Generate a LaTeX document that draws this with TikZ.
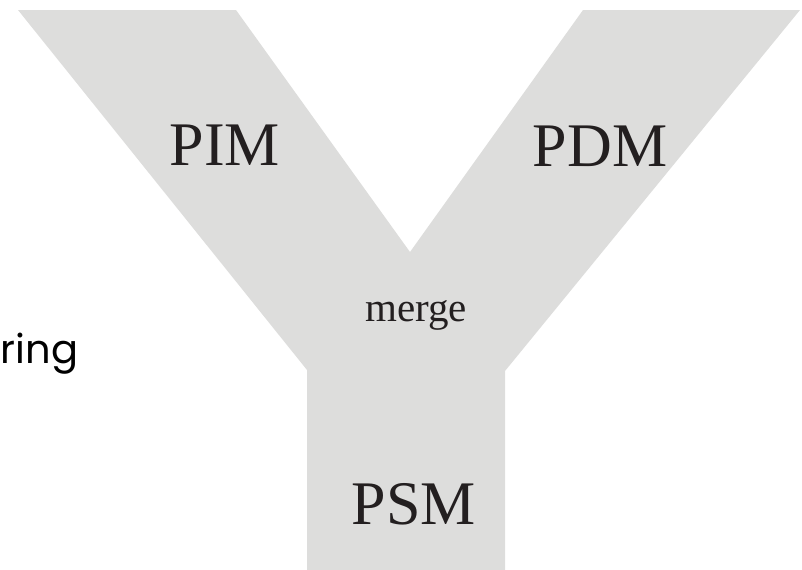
\documentclass[tikz,border=0pt]{standalone}
\usepackage{fontspec}
\setmainfont{Liberation Serif}
\newfontfamily\gothic{Poppins}
\definecolor{ygrey}{RGB}{221,221,220}
\definecolor{ink}{RGB}{35,31,32}
\begin{document}
\begin{tikzpicture}[x=0.75pt,y=-0.75pt,
  big/.style={inner sep=0pt,anchor=base,text=ink,font=\fontsize{46.5}{50}\selectfont},
  small/.style={inner sep=0pt,anchor=base,text=ink,font=\fontsize{30.75}{34}\selectfont},
  side/.style={inner sep=0pt,anchor=base west,text=black,font=\gothic\fontsize{30}{36}\selectfont}]
\useasboundingbox (0,0) rectangle (802,569);
\fill[ygrey] (18,10) -- (236,10) -- (410,252) -- (583,10) -- (800,10)
  -- (505,371) -- (505,570) -- (307,570) -- (307,370) -- cycle;
\node[big] (pim) at (225,165) {PIM};
\node[big] (pdm) at (600,166) {PDM};
\node[small] (merge) at (416,321) {merge};
\node[big] (psm) at (414,524) {PSM};
\node[side] (ring) at (0.5,363) {ring};
\end{tikzpicture}
\end{document}
